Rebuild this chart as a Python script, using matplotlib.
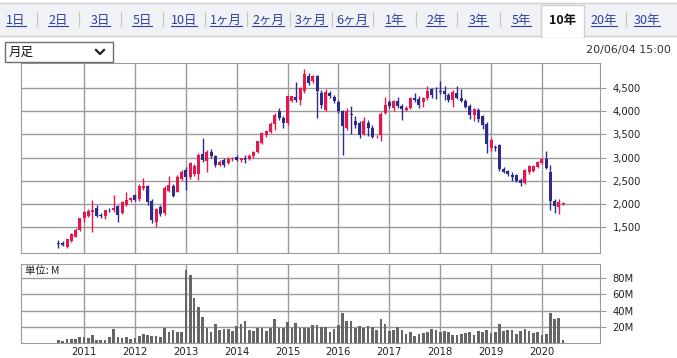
import matplotlib
matplotlib.use("Agg")
import matplotlib.pyplot as plt
import matplotlib.dates as mdates
from matplotlib.patches import Rectangle
from matplotlib.lines import Line2D
import numpy as np
import pandas as pd

# monthly candles, Jul 2010 .. Jun 2020
months = pd.date_range("2010-07-01", periods=120, freq="MS")

opens = [1155, 1165, 1080, 1200, 1295, 1436,
         1700, 1750, 1836, 1914, 1771, 1736, 1880, 1864, 1964, 1807, 1990, 2093,
         2186, 2110, 2340, 2400, 2075, 1620, 1945, 1806, 2290, 2400, 2271, 2549,
         2736, 2583, 2653, 2653, 3069, 2930, 3125, 3035, 2847, 2951, 2896, 2975,
         3010, 2950, 2985, 2975, 3030, 3115, 3315, 3485, 3555, 3717, 4015, 3860,
         3750, 4230, 4300, 4250, 4445, 4755, 4660, 4755, 4400, 4035, 4390, 4300,
         4210, 4000, 3650, 3950, 3790, 3750, 3505, 3750, 3645, 3460, 3485, 3965,
         4190, 4070, 4226, 4120, 4035, 4070, 4283, 4260, 4190, 4283, 4474, 4395,
         4445, 4445, 4353, 4233, 4390, 4283, 4212, 4120, 3930, 4020, 3908, 3717,
         3214, 3220, 3264, 2764, 2714, 2621, 2621, 2521, 2450, 2693, 2714, 2807,
         2879, 2964, 2693, 2071, 1929, 2000]
highs = [1230, 1200, 1255, 1380, 1480, 1710,
         1860, 1900, 2093, 1990, 1800, 1880, 1910, 2200, 1990, 2070, 2250, 2160,
         2220, 2440, 2560, 2420, 2100, 1920, 1990, 2380, 2600, 2440, 2620, 2740,
         2800, 2910, 2860, 3090, 3416, 3160, 3180, 3060, 2950, 2990, 3010, 3010,
         3060, 3000, 3060, 3070, 3150, 3370, 3560, 3600, 3760, 3960, 4060, 3890,
         4330, 4330, 4640, 4520, 4900, 4820, 4780, 4790, 4460, 4470, 4440, 4340,
         4240, 4020, 4080, 4120, 3900, 3800, 3870, 3810, 3700, 3490, 3980, 4300,
         4240, 4250, 4300, 4150, 4110, 4300, 4400, 4320, 4300, 4540, 4500, 4520,
         4657, 4540, 4400, 4450, 4540, 4480, 4260, 4150, 4080, 4060, 3920, 3760,
         3420, 3280, 3300, 2800, 2740, 2690, 2650, 2560, 2760, 2840, 2840, 2920,
         3000, 3143, 2850, 2110, 2110, 2040]
lows = [1060, 1095, 1060, 1180, 1280, 1420,
        1620, 1720, 1393, 1720, 1700, 1670, 1830, 1830, 1607, 1780, 1950, 2050,
        2060, 2060, 2300, 1980, 1600, 1500, 1740, 1760, 2250, 2150, 2250, 2520,
        2306, 2540, 2600, 2528, 2900, 2700, 3000, 2800, 2810, 2800, 2870, 2930,
        2920, 2900, 2880, 2940, 3000, 3100, 3290, 3440, 3540, 3600, 3820, 3650,
        3700, 4200, 4200, 4140, 4400, 4560, 4600, 3860, 4080, 4000, 4280, 4170,
        3960, 3060, 3590, 3500, 3640, 3420, 3480, 3460, 3420, 3430, 3365, 3940,
        4080, 4000, 4080, 3810, 4010, 4040, 4200, 4080, 4100, 4250, 4280, 4260,
        4380, 4250, 4200, 4100, 4260, 4200, 4060, 3830, 3800, 3760, 3620, 3107,
        3150, 3150, 2720, 2660, 2600, 2500, 2470, 2400, 2430, 2650, 2690, 2780,
        2860, 2760, 1870, 1800, 1780, 1980]
closes = [1145, 1115, 1245, 1365, 1445, 1700,
          1820, 1843, 1879, 1736, 1736, 1864, 1865, 1914, 1771, 2036, 2090, 2128,
          2093, 2390, 2400, 2050, 1660, 1895, 1790, 2347, 2410, 2180, 2583, 2702,
          2583, 2882, 2826, 3055, 2951, 3118, 3035, 2847, 2917, 2847, 2979, 2990,
          2940, 2985, 2955, 3045, 3130, 3350, 3540, 3575, 3730, 3930, 3860, 3740,
          4320, 4320, 4250, 4495, 4800, 4615, 4755, 4445, 4140, 4424, 4330, 4230,
          4000, 3680, 4000, 3910, 3700, 3485, 3790, 3645, 3455, 3475, 3950, 4140,
          4120, 4230, 4106, 4057, 4070, 4283, 4233, 4141, 4283, 4445, 4353, 4385,
          4410, 4375, 4233, 4424, 4283, 4212, 4100, 3930, 4050, 3823, 3703, 3285,
          3378, 3210, 2750, 2693, 2643, 2593, 2500, 2450, 2735, 2821, 2821, 2907,
          2979, 2786, 2071, 1964, 2036, 2020]
# volume in millions
volumes = [3.7, 2.5, 5, 5, 5, 7.4,
           7.4, 6.6, 9.9, 4, 4, 4, 7.8, 17, 7.4, 6.6, 7.8, 5,
           5.8, 9, 11, 9.9, 9, 9, 7.8, 19, 14, 16, 14, 14,
           90, 84, 56, 44.4, 32.5, 19, 14, 23.5, 16.5, 17, 17, 14.8,
           21.4, 23.5, 27, 16, 14.8, 19, 19, 14.8, 19, 29.6, 19, 19,
           25.5, 19, 24.3, 19, 19, 19, 22, 22, 20, 20, 13.6, 17,
           22, 37, 27, 27, 19, 21.4, 19, 21.4, 20, 16, 29.6, 23.5,
           15.2, 16, 20, 16, 11, 13.6, 9, 11, 12.3, 13.6, 17, 16,
           13.6, 14.8, 13.6, 9.9, 9.9, 11, 12.3, 13.6, 9.9, 14.8, 13.6, 16,
           12.3, 13.6, 23.5, 14.8, 16, 16, 11, 14.8, 17, 14.8, 12.3, 13.6,
           9.9, 11, 37, 29.6, 31.3, 3.3]

years = list(range(2011, 2021))
price_ticks = [1500, 2000, 2500, 3000, 3500, 4000, 4500]
vol_ticks = [20, 40, 60, 80]
tabs = ["1日", "2日", "3日", "5日", "10日", "1ヶ月", "2ヶ月", "3ヶ月", "6ヶ月",
        "1年", "2年", "3年", "5年", "10年", "20年", "30年"]
selected_tab = "10年"
period_label = "月足"
timestamp = "20/06/04 15:00"

RED = "#e5174d"
BLUE = "#2c2a8e"
GRID = "#9a9a9a"
LINK = "#2a3f9f"
JP = ["Noto Sans CJK JP", "DejaVu Sans"]

W, H = 677, 358
fig = plt.figure(figsize=(W / 100, H / 100), dpi=100)
fig.patch.set_facecolor("white")


def fx(px):
    return px / W


def fy(py):
    return 1 - py / H


x = mdates.date2num(months)
year_x = mdates.date2num(pd.to_datetime([f"{y}-01-01" for y in years]))
xlim = mdates.date2num(pd.to_datetime(["2009-10-05", "2021-02-21"]))

# ---- price panel
ax = fig.add_axes([fx(21), fy(253), 579 / W, 190 / H])
o = np.array(opens, float)
c = np.array(closes, float)
cols = np.where(c >= o, RED, BLUE)
ax.vlines(x, lows, highs, colors=cols, lw=1, zorder=2)
ax.bar(x, np.maximum(np.abs(c - o), 15), bottom=np.minimum(o, c), width=21,
       color=cols, linewidth=0, zorder=3)
ax.set_xlim(xlim)
ax.set_ylim(946, 5040)
ax.set_xticks(year_x)
ax.set_xticklabels([])
ax.set_yticks(price_ticks)
ax.set_yticklabels([f"{v:,}" for v in price_ticks])
ax.yaxis.tick_right()
ax.tick_params(axis="y", length=4, color=GRID, labelsize=7.2, pad=5, labelcolor="#222222")
ax.tick_params(axis="x", length=0)
ax.grid(True, color=GRID, lw=1)
ax.set_axisbelow(True)
for s in ax.spines.values():
    s.set_color(GRID)

# ---- volume panel
axv = fig.add_axes([fx(21), fy(343), 579 / W, 79 / H])
axv.bar(x, volumes, width=19, color="#666666", linewidth=0, zorder=3)
axv.set_xlim(xlim)
axv.set_ylim(0, 97.5)
axv.set_xticks(year_x)
axv.set_xticklabels([str(y) for y in years])
axv.set_yticks(vol_ticks)
axv.set_yticklabels([f"{v}M" for v in vol_ticks])
axv.yaxis.tick_right()
axv.tick_params(axis="y", length=4, color=GRID, labelsize=7.2, pad=5, labelcolor="#222222")
axv.tick_params(axis="x", length=0, labelsize=7.2, pad=3, labelcolor="#222222")
axv.grid(True, color=GRID, lw=1)
axv.set_axisbelow(True)
for s in axv.spines.values():
    s.set_color(GRID)
axv.text(4 / 579, 1 - 7 / 79, "単位: M", transform=axv.transAxes, ha="left",
         va="center", fontsize=7.5, family=JP, color="#222222")

# ---- tab bar
fig.patches.append(Rectangle((fx(0), fy(36)), 1, 33 / H, transform=fig.transFigure,
                             facecolor="#f1f2f6", edgecolor="none", zorder=0))
fig.lines.append(Line2D([0, 1], [fy(3), fy(3)], transform=fig.transFigure,
                        color="#cfcfcf", lw=1))
fig.lines.append(Line2D([0, 1], [fy(36), fy(36)], transform=fig.transFigure,
                        color="#cfcfcf", lw=1))
# selected tab: white, open at the bottom
fig.patches.append(Rectangle((fx(541), fy(37)), 43 / W, 32 / H, transform=fig.transFigure,
                             facecolor="white", edgecolor="none", zorder=2.5))
fig.lines.append(Line2D([fx(541), fx(541), fx(584), fx(584)], [fy(37), fy(5), fy(5), fy(37)],
                        transform=fig.transFigure, color="#cfcfcf", lw=1, zorder=2.6))

tab_cx = [16, 58, 100, 142, 184, 226, 268, 311, 352, 395, 436, 478, 521, 563, 604, 647]
tab_texts = []
for i, (lab, cx) in enumerate(zip(tabs, tab_cx)):
    sel = lab == selected_tab
    t = fig.text(fx(cx), fy(24), lab, ha="center", va="baseline", fontsize=9,
                 family=JP, color="#111111" if sel else LINK,
                 fontweight="bold" if sel else "normal", zorder=3)
    tab_texts.append((t, sel))
    if i < len(tabs) - 1:
        nxt = tabs[i + 1]
        if not sel and nxt != selected_tab:
            sx = (cx + tab_cx[i + 1]) / 2
            fig.lines.append(Line2D([fx(sx), fx(sx)], [fy(12), fy(26)],
                                    transform=fig.transFigure, color="#c4c4c4", lw=0.8))

fig.canvas.draw()
r = fig.canvas.get_renderer()
for t, sel in tab_texts:
    if sel:
        continue
    bb = t.get_window_extent(r)
    fig.lines.append(Line2D([bb.x0 / W, bb.x1 / W], [fy(26), fy(26)],
                            transform=fig.transFigure, color=LINK, lw=0.8))

# ---- selector and timestamp
fig.patches.append(Rectangle((fx(5), fy(62)), 108 / W, 20 / H, transform=fig.transFigure,
                             facecolor="white", edgecolor="#6e6e6e", lw=1, zorder=2))
fig.text(fx(9), fy(52), period_label, ha="left", va="center", fontsize=9, family=JP,
         color="#111111", zorder=3)
fig.lines.append(Line2D([fx(96), fx(100), fx(104)], [fy(50), fy(54), fy(50)],
                        transform=fig.transFigure, color="#222222", lw=1.6, zorder=3))
fig.text(fx(671), fy(50), timestamp, ha="right", va="center", fontsize=8,
         color="#333333")

fig.savefig("out.png", dpi=100)
